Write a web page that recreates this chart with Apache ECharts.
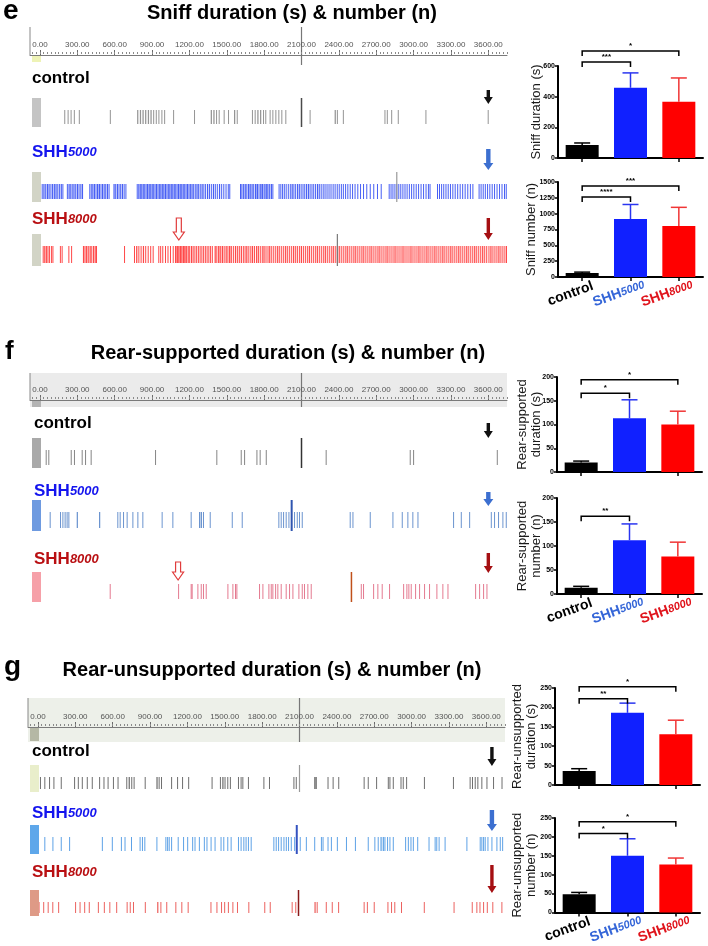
<!DOCTYPE html>
<html><head><meta charset="utf-8">
<script src="https://cdn.jsdelivr.net/npm/echarts@6/dist/echarts.min.js"></script>
<style>html,body{margin:0;padding:0;background:#fff}#c{width:708px;height:946px}</style>
</head><body><div id="c"></div>
<script>
// ---------------- DATA ----------------
const groups = ['control', 'SHH5000', 'SHH8000'];
const rulerLabels = [0, 300, 600, 900, 1200, 1500, 1800, 2100, 2400, 2700, 3000, 3300, 3600];
const rulerCursor = [2100];

// bar chart values (mean, SEM)
const sniffDurationMean = [85, 458, 367];
const sniffDurationSem = [13, 97, 155];
const sniffNumberMean = [65, 915, 805];
const sniffNumberSem = [12, 230, 295];
const rearSupDurationMean = [20, 113, 100];
const rearSupDurationSem = [3, 39, 28];
const rearSupNumberMean = [13, 112, 78];
const rearSupNumberSem = [3, 34, 30];
const rearUnsDurationMean = [36, 186, 131];
const rearUnsDurationSem = [6, 25, 36];
const rearUnsNumberMean = [48, 150, 127];
const rearUnsNumberSem = [5, 45, 17];

// significance brackets [from, to, label]
const sniffDurationSig = [[0, 1, '***'], [0, 2, '*']];
const sniffNumberSig = [[0, 1, '****'], [0, 2, '***']];
const rearSupDurationSig = [[0, 1, '*'], [0, 2, '*']];
const rearSupNumberSig = [[0, 1, '**']];
const rearUnsDurationSig = [[0, 1, '**'], [0, 2, '*']];
const rearUnsNumberSig = [[0, 1, '*'], [0, 2, '*']];

// ethogram events [start (s), duration (s)]
const sniffControlEvents = [[195,8],[222,8],[246,8],[272,8],[312,6],[561,6],[780,10],[802,10],[823,10],[844,10],[866,10],[887,10],[909,8],[930,8],[951,8],[975,8],[997,6],[1069,6],[1237,6],[1371,10],[1392,10],[1414,8],[1435,6],[1475,6],[1510,6],[1558,10],[1580,8],[1702,8],[1724,8],[1745,10],[1767,10],[1791,8],[1809,6],[1844,8],[1866,8],[1890,8],[1914,8],[1938,6],[1970,6],[2165,6],[2366,10],[2384,8],[2432,6],[2766,8],[2785,8],[2820,6],[2873,6],[3095,6],[3595,6]];
const sniff5000Events = [[14,8],[27,10],[42,6],[55,12],[70,6],[84,8],[97,10],[112,6],[124,10],[139,8],[152,6],[166,10],[180,8],
[216,8],[229,10],[243,6],[255,8],[268,10],[283,6],[296,10],[310,8],[324,6],[336,10],
[396,6],[408,8],[420,10],[434,6],[446,8],[458,12],[474,6],[486,8],[498,10],[512,6],[524,8],[537,10],[551,8],
[590,10],[604,8],[617,10],[631,6],[644,8],[657,10],[672,6],[686,8],
[777,8],[789,10],[802,6],[813,8],[824,10],[837,6],[848,8],[859,12],[874,6],[885,8],[896,10],[909,6],[920,8],[931,10],[944,6],[955,8],[966,10],[979,6],[990,8],[1001,12],[1016,6],[1027,8],[1038,10],[1051,6],[1062,8],[1073,10],[1086,6],[1097,8],[1108,12],[1123,6],[1134,8],[1145,10],[1158,6],[1169,8],[1180,10],[1193,6],[1204,8],[1216,10],[1230,6],[1243,8],[1256,10],[1270,6],[1283,8],[1297,10],[1312,6],[1326,8],[1341,10],[1357,6],[1372,8],[1388,10],[1404,6],[1420,8],[1437,10],[1455,6],[1472,8],[1490,6],[1508,8],[1520,6],
[1606,10],[1618,8],[1631,10],[1645,6],[1657,8],[1670,12],[1685,8],[1698,10],[1712,8],[1726,12],[1741,10],[1755,8],[1768,12],[1783,10],[1797,8],[1810,12],[1825,10],[1840,8],[1853,10],[1866,6],
[1916,8],[1930,6],[1944,8],[1958,6],[1973,8],[1990,6],[2006,8],[2020,10],[2035,6],[2049,8],[2064,10],[2079,6],[2093,8],[2108,6],[2122,8],[2136,6],[2150,10],[2165,6],[2180,8],[2194,6],[2209,8],[2224,10],[2239,6],[2254,8],[2270,6],[2285,8],[2301,6],[2317,8],[2333,6],[2350,8],[2366,6],[2383,8],[2399,6],[2416,8],[2432,6],[2450,8],[2468,6],[2487,8],[2506,6],[2526,8],[2548,6],[2570,8],[2594,6],[2620,8],[2648,6],[2676,8],[2706,6],[2736,6],
[2800,6],[2815,8],[2830,6],[2846,8],[2861,6],[2877,8],[2893,6],[2910,8],[2927,6],[2944,8],[2962,6],[2980,8],[2998,6],[3017,8],[3036,6],[3056,8],[3076,6],[3096,8],[3115,6],[3128,6],
[3188,8],[3204,6],[3221,8],[3238,6],[3256,8],[3274,6],[3292,8],[3311,6],[3330,8],[3350,6],[3370,8],[3390,6],[3410,8],[3431,6],[3452,8],[3472,6],
[3522,8],[3538,6],[3555,8],[3572,6],[3590,8],[3608,6],[3627,8],[3646,6],[3666,8],[3686,6],[3706,8],[3726,6],[3740,6]];
const sniff8000Events = [[22,8],[34,10],[48,6],[60,8],[72,6],[88,8],[100,6],[160,6],[174,6],[228,8],[250,8],[345,10],[358,8],[370,10],[384,6],[398,10],[412,8],[426,10],[440,8],[450,6],[675,6],[755,8],[772,10],[790,8],[808,6],[826,10],[845,8],[865,6],[885,8],[905,6],[950,8],[965,6],[982,8],[1004,6],[1024,8],[1044,6],[1066,8],
[1084,10],[1096,12],[1110,10],[1122,12],[1135,10],[1148,12],[1160,10],[1172,8],[1185,10],[1198,8],[1212,10],[1226,6],[1240,8],[1254,6],[1268,8],[1282,6],[1296,8],[1310,6],[1324,8],[1338,6],[1352,8],[1366,6],[1380,8],
[1402,10],[1416,8],[1430,12],[1447,8],[1460,10],[1475,6],[1490,10],[1505,8],[1518,12],[1535,6],[1551,8],[1566,10],[1583,6],[1597,8],[1612,10],[1629,6],[1643,8],[1656,10],[1673,6],[1689,8],[1702,10],[1719,6],[1735,8],[1748,10],[1765,6],[1781,8],[1794,10],[1811,6],[1827,8],[1840,10],[1857,6],[1873,8],[1889,6],[1904,10],[1921,6],[1937,8],[1953,6],[1968,10],[1985,6],[2001,8],[2017,6],[2032,10],[2049,8],[2063,6],[2079,8],[2094,10],[2111,6],[2127,8],[2143,6],[2158,10],[2175,6],[2191,8],[2207,6],[2222,10],[2239,6],[2255,8],[2271,6],[2286,10],[2303,6],[2319,8],[2335,6],[2350,10],[2367,6],[2383,8],[2398,10],[2415,6],[2431,8],[2447,6],[2462,10],[2479,6],[2495,8],[2511,6],[2526,10],[2543,6],[2559,8],[2575,6],[2590,10],[2607,6],[2623,8],[2639,6],[2654,10],[2671,6],[2687,8],[2703,6],[2718,10],[2735,6],[2751,8],[2767,6],[2782,10],[2799,6],[2815,8],[2831,6],[2846,10],[2863,6],[2879,8],[2895,6],[2910,10],[2927,6],[2943,8],[2959,6],[2974,10],[2991,6],[3007,8],[3023,6],[3038,10],[3055,6],[3071,8],[3087,6],[3102,10],[3119,6],[3135,8],[3151,6],[3166,10],[3183,6],[3199,8],[3215,6],[3230,10],[3247,6],[3263,8],[3279,6],[3294,10],[3311,6],[3327,8],[3343,6],[3358,10],[3375,6],[3391,8],[3407,6],[3422,10],[3439,6],[3455,8],[3471,6],[3486,10],[3503,6],[3519,8],[3535,6],[3550,10],[3567,6],[3583,8],[3601,6],[3616,10],[3633,6],[3649,8],[3665,6],[3680,10],[3697,6],[3713,8],[3729,6],[3742,6]];
const rearSupControlEvents = [[46,6],[67,6],[247,6],[273,6],[335,6],[362,6],[407,6],[924,6],[1416,6],[1612,6],[1639,6],[1738,6],[1764,6],[1813,6],[2294,6],[2969,6],[2996,6],[3668,6]];
const rearSup5000Events = [[78,6],[161,6],[180,6],[198,6],[214,6],[228,6],[295,10],[474,10],[621,6],[640,6],[667,6],[696,6],[742,6],[782,6],[822,6],[977,6],[1063,6],[1210,6],[1277,10],[1291,10],[1309,8],[1363,8],[1540,6],[1620,6],[1914,6],[1933,6],[1952,6],[1973,6],[1995,6],[2040,6],[2062,6],[2080,6],[2102,6],[2487,6],[2509,6],[2648,6],[2830,6],[2905,6],[2950,6],[2990,6],[3031,6],[3317,6],[3379,6],[3446,6],[3620,6],[3646,6],[3678,6],[3713,6],[3740,6]];
const rearSup8000Events = [[560,6],[1109,6],[1210,6],[1218,6],[1264,6],[1291,6],[1309,6],[1331,6],[1505,6],[1545,6],[1566,8],[1577,6],[1759,6],[1786,6],[1834,6],[1853,8],[1866,6],[1888,6],[1906,6],[1933,6],[1973,6],[2000,6],[2027,6],[2075,6],[2102,6],[2120,6],[2147,6],[2174,6],[2576,6],[2594,6],[2675,6],[2709,6],[2744,6],[2803,6],[2916,6],[2942,8],[2958,6],[2977,6],[3012,6],[3044,6],[3084,6],[3124,6],[3183,6],[3231,6],[3272,6],[3494,6],[3526,6],[3558,6],[3585,6]];
const rearUnsControlEvents = [[16,6],[51,6],[89,6],[124,6],[183,6],[290,6],[320,6],[352,6],[392,6],[432,6],[491,6],[526,6],[559,6],[602,6],[639,6],[709,8],[728,10],[749,6],[768,6],[857,6],[951,10],[969,6],[988,6],[1069,6],[1117,6],[1157,6],[1206,6],[1394,6],[1461,6],[1480,10],[1498,8],[1520,6],[1541,6],[1606,8],[1627,6],[1641,6],[1686,6],[1810,6],[1855,6],[2051,6],[2070,6],[2218,12],[2231,8],[2325,6],[2366,6],[2411,6],[2615,6],[2648,6],[2715,6],[2809,6],[2822,8],[2849,6],[2911,8],[2929,8],[2956,6],[3099,6],[3332,6],[3466,8],[3485,6],[3507,8],[3528,6],[3560,6],[3601,6],[3654,6],[3722,6]];
const rearUns5000Events = [[51,6],[116,6],[183,6],[250,6],[513,6],[593,6],[666,6],[695,6],[747,6],[816,6],[835,6],[854,6],[951,6],[1023,8],[1037,6],[1050,6],[1069,6],[1122,6],[1165,6],[1198,6],[1238,6],[1257,6],[1292,6],[1332,6],[1353,6],[1386,6],[1418,6],[1466,6],[1488,6],[1520,6],[1547,6],[1606,6],[1627,6],[1649,6],[1667,6],[1686,6],[1708,6],[1890,6],[1909,6],[1928,6],[1949,6],[1971,6],[1990,6],[2008,6],[2030,6],[2057,6],[2102,6],[2151,6],[2218,8],[2272,8],[2285,6],[2325,6],[2352,6],[2400,6],[2473,6],[2545,6],[2648,6],[2701,6],[2728,6],[2750,10],[2768,10],[2782,6],[2803,6],[2822,6],[2849,6],[2948,6],[2970,6],[2991,6],[3010,6],[3045,6],[3136,6],[3185,8],[3198,8],[3217,6],[3265,6],[3440,6],[3547,8],[3560,8],[3574,6],[3587,6],[3609,6],[3641,6],[3681,6],[3708,6],[3727,6]];
const rearUns8000Events = [[5,6],[42,6],[78,6],[115,6],[162,6],[298,6],[334,6],[371,6],[408,6],[481,6],[529,6],[573,6],[628,6],[712,8],[737,8],[763,6],[858,6],[957,10],[983,6],[1030,6],[1103,6],[1151,6],[1202,6],[1385,6],[1433,6],[1470,8],[1495,8],[1525,6],[1561,6],[1598,6],[1689,6],[1817,6],[1861,6],[2037,6],[2066,6],[2220,10],[2238,6],[2311,6],[2359,6],[2410,6],[2615,6],[2641,6],[2696,6],[2806,6],[2835,6],[2861,6],[2915,6],[3098,6],[3337,6],[3483,8],[3520,6],[3545,8],[3574,6],[3604,6],[3648,6],[3721,6]];
// cursor positions (s) of each ethogram row
const rowCursors = [2100, 2865, 2388, 2100, 2021, 2501, 2100, 2078, 2092];
// arrow times (s)
const endArrowTimes = [3600, 3600, 3645];
const hollowArrowTimes = [1115, 1109];

// ---------------- LAYOUT / STYLE ----------------
const F = 'Liberation Sans';
const T_MIN = -80, T_MAX = 3750;
const rulers = [
  {left:30, base:55, band:null, bandTop:27, bandBottom:65, swatch:'#eef3b6', swatchBottom:62},
  {left:30, base:400, band:'#ebebeb', bandTop:373, bandBottom:407, swatch:'#b3b3b3', swatchBottom:407},
  {left:28, base:727, band:'#edf0e9', bandTop:698, bandBottom:742, swatch:'#b5b8a5', swatchBottom:741}
];
const rows = [
  {left:30, top:98, h:29, ev:sniffControlEvents, c:'#7d7d7d', sw:'#c4c4c4', cc:'#4a4a4a', cw:1.5},
  {left:30, top:172, h:30, ev:sniff5000Events, c:'#1f3cf2', sw:'#d2d4c6', cc:'#9a9a9a', cw:1.2},
  {left:30, top:234, h:32, ev:sniff8000Events, c:'#ff2020', sw:'#d2d4c6', cc:'#7a7a7a', cw:1.2},
  {left:30, top:438, h:30, ev:rearSupControlEvents, c:'#6a6a6a', sw:'#a9a9a9', cc:'#333', cw:1.5},
  {left:30, top:500, h:31, ev:rearSup5000Events, c:'#4b7cc4', sw:'#6e9ae0', cc:'#2f55b0', cw:2},
  {left:30, top:572, h:30, ev:rearSup8000Events, c:'#de5d78', sw:'#f6a0a8', cc:'#c0501a', cw:1.5},
  {left:28, top:765, h:27, ev:rearUnsControlEvents, c:'#4e4e4e', sw:'#e9eecb', cc:'#999', cw:1.2},
  {left:28, top:825, h:29, ev:rearUns5000Events, c:'#3b8ee0', sw:'#5ea7ea', cc:'#3452c0', cw:2},
  {left:28, top:890, h:26, ev:rearUns8000Events, c:'#e8403c', sw:'#de9a86', cc:'#8a1a1a', cw:1.5}
];
const barColors = ['#000000', '#1020ff', '#ff0000'];
const errColors = ['#000000', '#2a35f0', '#f03535'];
const barCharts = [
  {top:66, h:92, left:558, mean:sniffDurationMean, sem:sniffDurationSem, max:600, interval:200, name:'Sniff duration (s)', gap:15, sig:sniffDurationSig, levels:[626, 698], labels:false},
  {top:182, h:95, left:558, mean:sniffNumberMean, sem:sniffNumberSem, max:1500, interval:250, name:'Sniff number (n)', gap:20, sig:sniffNumberSig, levels:[1263, 1437], labels:true},
  {top:377, h:95, left:557, mean:rearSupDurationMean, sem:rearSupDurationSem, max:200, interval:50, name:'Rear-supported\nduration (s)', gap:14, sig:rearSupDurationSig, levels:[166, 194], labels:false},
  {top:498, h:96, left:557, mean:rearSupNumberMean, sem:rearSupNumberSem, max:200, interval:50, name:'Rear-supported\nnumber (n)', gap:14, sig:rearSupNumberSig, levels:[162], labels:true},
  {top:688, h:97, left:555, mean:rearUnsDurationMean, sem:rearUnsDurationSem, max:250, interval:50, name:'Rear-unsupported\nduration (s)', gap:17, sig:rearUnsDurationSig, levels:[222, 253], labels:false},
  {top:818, h:98, left:555, mean:rearUnsNumberMean, sem:rearUnsNumberSem, max:250, interval:50, name:'Rear-unsupported\nnumber (n)', gap:17, sig:rearUnsNumberSig, levels:[209, 240], labels:true}
];

// ---------------- BUILD ----------------
const grid = [], xAxis = [], yAxis = [], series = [];
const minorTicks = [];
for (let t = -60; t <= T_MAX; t += 30) minorTicks.push(t);

rulers.forEach((R, k) => {
  const gi = grid.length;
  grid.push({left:R.left, top:R.base - 1, width:477, height:1});
  const xi = xAxis.length;
  xAxis.push({gridIndex:gi, type:'value', min:T_MIN, max:T_MAX, position:'bottom',
    axisLine:{show:true, lineStyle:{color:'#7a7a7a', width:1}},
    axisTick:{show:true, inside:true, length:5, customValues:rulerLabels, lineStyle:{color:'#6a6a6a'}},
    axisLabel:{show:true, inside:true, margin:6, customValues:rulerLabels, formatter:v => Number(v).toFixed(2), fontSize:8, color:'#555', fontFamily:F},
    splitLine:{show:false}});
  xAxis.push({gridIndex:gi, type:'value', min:T_MIN, max:T_MAX, position:'top',
    axisLine:{show:false}, axisTick:{show:true, inside:false, length:2, customValues:minorTicks, lineStyle:{color:'#8a8a8a'}},
    axisLabel:{show:false}, splitLine:{show:false}});
  const yi = yAxis.length;
  yAxis.push({gridIndex:gi, type:'value', min:0, max:1, show:false});
  series.push({type:'custom', xAxisIndex:xi, yAxisIndex:yi, z:-5, silent:true, data:rulerCursor.map(v => [v]),
    renderItem:(params, api) => {
      const cs = params.coordSys;
      const cx = api.coord([api.value(0), 0])[0];
      const ch = [];
      if (R.band) ch.push({type:'rect', shape:{x:cs.x, y:R.bandTop, width:cs.width, height:R.bandBottom - R.bandTop}, style:{fill:R.band}});
      ch.push({type:'rect', shape:{x:cs.x + 2, y:R.base, width:9, height:R.swatchBottom - R.base}, style:{fill:R.swatch}});
      ch.push({type:'line', shape:{x1:cs.x, y1:R.bandTop, x2:cs.x, y2:R.base}, style:{stroke:'#888', lineWidth:1}});
      ch.push({type:'line', shape:{x1:cx, y1:R.bandTop, x2:cx, y2:R.bandBottom}, style:{stroke:'#777', lineWidth:1.2}});
      return {type:'group', children:ch};
    }});
});

const rowGrid = [];
rows.forEach((r, k) => {
  const gi = grid.length; rowGrid.push(gi);
  grid.push({left:r.left, top:r.top, width:477, height:r.h});
  const xi = xAxis.length, yi = yAxis.length;
  xAxis.push({gridIndex:gi, type:'value', min:T_MIN, max:T_MAX, show:false});
  yAxis.push({gridIndex:gi, type:'value', min:0, max:1, show:false});
  series.push({type:'custom', xAxisIndex:xi, yAxisIndex:yi, silent:true, z:3, data:[[rowCursors[k]]],
    renderItem:(params, api) => {
      const cs = params.coordSys;
      const cx = api.coord([api.value(0), 0])[0];
      return {type:'group', children:[
        {type:'rect', shape:{x:cs.x + 2, y:cs.y, width:9, height:cs.height}, style:{fill:r.sw}},
        {type:'line', shape:{x1:cx, y1:cs.y, x2:cx, y2:cs.y + cs.height}, style:{stroke:r.cc, lineWidth:r.cw}}
      ]};
    }});
  series.push({type:'custom', xAxisIndex:xi, yAxisIndex:yi, silent:true, z:2, data:r.ev,
    renderItem:(params, api) => {
      const cs = params.coordSys;
      const a = api.coord([api.value(0), 0])[0];
      const b = api.coord([api.value(0) + api.value(1), 0])[0];
      const top = cs.y + 12, bot = cs.y + cs.height - 3;
      return {type:'rect', shape:{x:a, y:top, width:Math.max(1, b - a), height:bot - top}, style:{fill:r.c, opacity:0.82}};
    }});
});

const richLabel = {
  c:{fontSize:14, fontWeight:'bold', color:'#000', fontFamily:F},
  b:{fontSize:14, fontWeight:'bold', color:'#3566d8', fontFamily:F},
  bi:{fontSize:11, fontWeight:'bold', fontStyle:'italic', color:'#3566d8', fontFamily:F},
  r:{fontSize:14, fontWeight:'bold', color:'#e0141c', fontFamily:F},
  ri:{fontSize:11, fontWeight:'bold', fontStyle:'italic', color:'#e0141c', fontFamily:F}
};
barCharts.forEach(B => {
  const gi = grid.length;
  grid.push({left:B.left, top:B.top, width:145, height:B.h});
  const xi = xAxis.length, yi = yAxis.length;
  xAxis.push({gridIndex:gi, type:'category', data:groups,
    axisLine:{show:true, lineStyle:{color:'#000', width:2}},
    axisTick:{show:true, alignWithLabel:true, length:4, lineStyle:{color:'#000', width:1.5}},
    axisLabel:B.labels ? {show:true, interval:0, rotate:20, margin:5, align:'center', verticalAlign:'top', padding:[0, 30, 0, 0],
      formatter:v => ({control:'{c|control}', SHH5000:'{b|SHH}{bi|5000}', SHH8000:'{r|SHH}{ri|8000}'})[v], rich:richLabel} : {show:false},
    splitLine:{show:false}});
  yAxis.push({gridIndex:gi, type:'value', min:0, max:B.max, interval:B.interval,
    axisLine:{show:true, lineStyle:{color:'#000', width:2}},
    axisTick:{show:true, length:3, lineStyle:{color:'#000', width:1.5}},
    axisLabel:{fontSize:7, fontWeight:'bold', color:'#000', margin:3, fontFamily:F, formatter:v => String(v)},
    splitLine:{show:false},
    name:B.name, nameLocation:'middle', nameGap:B.gap, nameRotate:90, nameMoveOverlap:false,
    nameTextStyle:{fontSize:13, color:'#1a1a1a', fontFamily:F, lineHeight:14}});
  series.push({type:'bar', xAxisIndex:xi, yAxisIndex:yi, barWidth:33, silent:true, z:2,
    data:B.mean.map((v, i) => ({value:v, itemStyle:{color:barColors[i]}}))});
  series.push({type:'custom', xAxisIndex:xi, yAxisIndex:yi, silent:true, z:3,
    data:B.mean.map((v, i) => [i, v, B.sem[i]]),
    renderItem:(params, api) => {
      const i = api.value(0);
      const p = api.coord([i, api.value(1)]);
      const q = api.coord([i, api.value(1) + api.value(2)]);
      const c = errColors[i];
      return {type:'group', children:[
        {type:'line', shape:{x1:p[0], y1:p[1], x2:p[0], y2:q[1]}, style:{stroke:c, lineWidth:1.5}},
        {type:'line', shape:{x1:p[0] - 8, y1:q[1], x2:p[0] + 8, y2:q[1]}, style:{stroke:c, lineWidth:1.5}}
      ]};
    }});
  series.push({type:'custom', xAxisIndex:xi, yAxisIndex:yi, silent:true, z:4,
    data:B.sig.map((s, j) => [s[0], s[1], B.levels[j]]),
    renderItem:(params, api) => {
      const a = api.coord([api.value(0), api.value(2)]);
      const b = api.coord([api.value(1), api.value(2)]);
      const txt = B.sig[params.dataIndex][2];
      return {type:'group', children:[
        {type:'polyline', shape:{points:[[a[0], a[1] + 5], [a[0], a[1]], [b[0], a[1]], [b[0], a[1] + 5]]}, style:{stroke:'#000', lineWidth:1.5, fill:null}},
        {type:'text', style:{text:txt, x:(a[0] + b[0]) / 2, y:a[1] - 1, align:'center', verticalAlign:'bottom', fontSize:8, fontWeight:'bold', fill:'#000', fontFamily:F}}
      ]};
    }});
});

const chart = echarts.init(document.getElementById('c'), null, {renderer:'canvas', width:708, height:946});
chart.setOption({animation:false, backgroundColor:'#fff', grid, xAxis, yAxis, series});

// ---------------- ANNOTATIONS ----------------
function arrow(x, yt, yb, color, shaft, head, headH) {
  return {type:'polygon', silent:true, z:10, shape:{points:[[x - shaft, yt], [x + shaft, yt], [x + shaft, yb - headH], [x + head, yb - headH], [x, yb], [x - head, yb - headH], [x - shaft, yb - headH]]}, style:{fill:color}};
}
function hollowArrow(x, yt, yb, color) {
  return {type:'polygon', silent:true, z:10, shape:{points:[[x - 2.5, yt], [x + 2.5, yt], [x + 2.5, yb - 8], [x + 5.5, yb - 8], [x, yb], [x - 5.5, yb - 8], [x - 2.5, yb - 8]]}, style:{fill:'#fff', stroke:color, lineWidth:1.2}};
}
const px = (gi, t) => chart.convertToPixel({gridIndex:gi}, [t, 0])[0];
const g = [];
function txt(x, y, text, size, extra) {
  g.push(Object.assign({type:'text', silent:true, z:10, x, y, style:Object.assign({text, fontSize:size, fontWeight:'bold', fill:'#000', fontFamily:F, align:'left', verticalAlign:'middle'}, extra || {})}));
}
txt(3, 11, 'e', 28);
txt(292, 13, 'Sniff duration (s) & number (n)', 20, {align:'center'});
txt(5, 352, 'f', 26);
txt(288, 353, 'Rear-supported duration (s) & number (n)', 20, {align:'center'});
txt(4, 667, 'g', 28);
txt(272, 670, 'Rear-unsupported duration (s) & number (n)', 20, {align:'center'});

const rowRich = {
  k:{fontSize:17, fontWeight:'bold', fill:'#000', fontFamily:F},
  b:{fontSize:17, fontWeight:'bold', fill:'#1414ee', fontFamily:F},
  bi:{fontSize:13, fontWeight:'bold', fontStyle:'italic', fill:'#1414ee', fontFamily:F},
  r:{fontSize:17, fontWeight:'bold', fill:'#b90f12', fontFamily:F},
  ri:{fontSize:13, fontWeight:'bold', fontStyle:'italic', fill:'#b90f12', fontFamily:F}
};
const labelPos = [[32, 78], [32, 152], [32, 219], [34, 423], [34, 491], [34, 559], [32, 751], [32, 813], [32, 872]];
const labelText = ['{k|control}', '{b|SHH}{bi|5000}', '{r|SHH}{ri|8000}'];
labelPos.forEach((p, k) => {
  g.push({type:'text', silent:true, z:10, x:p[0], y:p[1], style:{text:labelText[k % 3], rich:rowRich, align:'left', verticalAlign:'middle'}});
});
const arrowY = [[90, 104], [149, 170], [218, 240], [423, 438], [492, 506], [553, 573], [747, 766], [810, 831], [865, 893]];
const arrowColors = ['#111', '#3c6fd0', '#a50f12'];
arrowY.forEach((a, k) => {
  const panel = Math.floor(k / 3);
  const x = px(rowGrid[k], endArrowTimes[panel]);
  const c = arrowColors[k % 3];
  if (k % 3 === 1) g.push(arrow(x, a[0], a[1], c, 2.2, 5, 7));
  else g.push(arrow(x, a[0], a[1], c, 1.7, 4.5, 7));
});
g.push(hollowArrow(px(rowGrid[2], hollowArrowTimes[0]), 218, 240, '#e03c3c'));
g.push(hollowArrow(px(rowGrid[5], hollowArrowTimes[1]), 562, 580, '#e03c3c'));
chart.setOption({graphic:g});
</script>
</body></html>
